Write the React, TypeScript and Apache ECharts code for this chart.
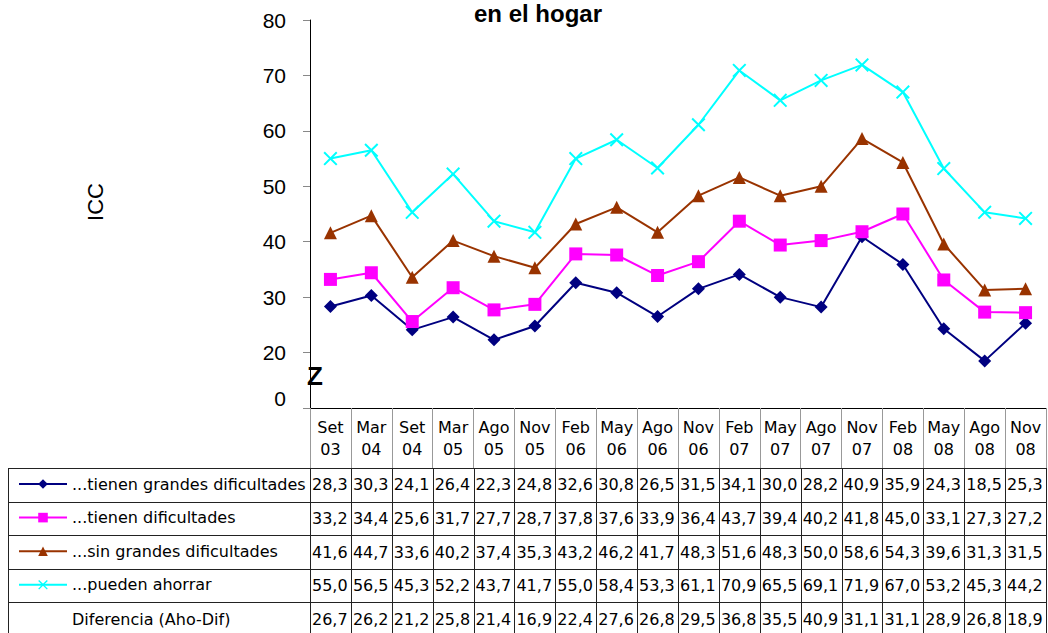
import React, { useEffect, useRef } from "react";
import * as echarts from "echarts";

const categories = ["Set 03", "Mar 04", "Set 04", "Mar 05", "Ago 05", "Nov 05", "Feb 06", "May 06", "Ago 06", "Nov 06", "Feb 07", "May 07", "Ago 07", "Nov 07", "Feb 08", "May 08", "Ago 08", "Nov 08"];
const grandesDificultades = [28.3, 30.3, 24.1, 26.4, 22.3, 24.8, 32.6, 30.8, 26.5, 31.5, 34.1, 30.0, 28.2, 40.9, 35.9, 24.3, 18.5, 25.3];
const dificultades = [33.2, 34.4, 25.6, 31.7, 27.7, 28.7, 37.8, 37.6, 33.9, 36.4, 43.7, 39.4, 40.2, 41.8, 45.0, 33.1, 27.3, 27.2];
const sinGrandes = [41.6, 44.7, 33.6, 40.2, 37.4, 35.3, 43.2, 46.2, 41.7, 48.3, 51.6, 48.3, 50.0, 58.6, 54.3, 39.6, 31.3, 31.5];
const puedenAhorrar = [55.0, 56.5, 45.3, 52.2, 43.7, 41.7, 55.0, 58.4, 53.3, 61.1, 70.9, 65.5, 69.1, 71.9, 67.0, 53.2, 45.3, 44.2];
const diferencia = [26.7, 26.2, 21.2, 25.8, 21.4, 16.9, 22.4, 27.6, 26.8, 29.5, 36.8, 35.5, 40.9, 31.1, 31.1, 28.9, 26.8, 18.9];
const seriesNames = ["...tienen grandes dificultades", "...tienen dificultades", "...sin grandes dificultades", "...pueden ahorrar"];
const diffLabel = "Diferencia (Aho-Dif)";
const titleText = "en el hogar";
const yName = "ICC";

const W = 1048;
const H = 633;
const GL = 310;
const GR = 2;
const GT = 20;
const GB = 408;
const TAB = "DejaVu Sans";
const ARIAL = "Liberation Sans, Arial";

export default function App() {
  const ref = useRef<HTMLDivElement>(null);
  useEffect(() => {
    if (!ref.current) return;
    const chart = echarts.init(ref.current, undefined, { renderer: "svg" });
    const colW = (W - GL - GR) / categories.length;
    const rowTop = 468;
    const rowH = 33.6;
    const tableRows = [grandesDificultades, dificultades, sinGrandes, puedenAhorrar, diferencia];
    const graphics: any[] = [];
    graphics.push({ type: "text", x: 538, y: 13, style: { text: titleText, font: `bold 24px ${ARIAL}`, fill: "#000", align: "center", verticalAlign: "middle" } });
    graphics.push({ type: "text", x: 95, y: 202, rotation: Math.PI / 2, style: { text: yName, font: `22px ${ARIAL}`, fill: "#000", align: "center", verticalAlign: "middle" } });
    graphics.push({ type: "text", x: 315, y: 376, style: { text: "Z", font: `bold 26px ${ARIAL}`, fill: "#000", align: "center", verticalAlign: "middle" } });
    for (let r = 0; r <= tableRows.length; r++) {
      const y = Math.round(rowTop + r * rowH) + 0.5;
      graphics.push({ type: "line", shape: { x1: 8, y1: y, x2: W - GR, y2: y }, style: { stroke: "#222", lineWidth: 1 } });
    }
    graphics.push({ type: "line", shape: { x1: 8.5, y1: rowTop, x2: 8.5, y2: H }, style: { stroke: "#222", lineWidth: 1 } });
    for (let k = 0; k <= categories.length; k++) {
      const x = Math.round(GL + k * colW) + 0.5;
      graphics.push({ type: "line", shape: { x1: x, y1: rowTop, x2: x, y2: H }, style: { stroke: "#222", lineWidth: 1 } });
    }
    tableRows.forEach((row, r) => {
      row.forEach((v, i) => {
        graphics.push({
          type: "text",
          x: GL + i * colW + 2,
          y: rowTop + r * rowH + rowH / 2,
          style: { text: v.toFixed(1).replace(".", ","), font: `16px ${TAB}`, fill: "#000", align: "left", verticalAlign: "middle" },
        });
      });
    });
    graphics.push({ type: "text", x: 72, y: rowTop + 4 * rowH + rowH / 2, style: { text: diffLabel, font: `16px ${TAB}`, fill: "#000", align: "left", verticalAlign: "middle" } });

    const mk = (name: string, data: number[], color: string, symbol: string, size: number) => ({
      name,
      type: "line",
      data,
      symbol,
      symbolSize: size,
      lineStyle: { color, width: 2 },
      itemStyle: { color },
      emphasis: { disabled: true },
    });

    chart.setOption({
      animation: false,
      grid: { left: GL, right: GR, top: GT, bottom: H - GB, containLabel: false },
      legend: {
        orient: "vertical",
        left: 13,
        top: rowTop + 3,
        itemWidth: 48,
        itemHeight: 12,
        itemGap: rowH - 16,
        textStyle: { fontFamily: TAB, fontSize: 16, color: "#000", lineHeight: 16 },
        data: seriesNames,
        selectedMode: false,
      },
      xAxis: {
        type: "category",
        data: categories,
        boundaryGap: true,
        axisLine: { lineStyle: { color: "#000", width: 1 } },
        axisTick: { show: true, length: 60, interval: 0, lineStyle: { color: "#999" } },
        axisLabel: {
          interval: 0,
          margin: 8,
          fontFamily: TAB,
          fontSize: 16,
          lineHeight: 22,
          color: "#000",
          formatter: (v: string) => v.replace(" ", "\n"),
        },
        splitLine: { show: false },
      },
      yAxis: {
        type: "value",
        min: 10,
        max: 80,
        interval: 10,
        axisLine: { show: true, lineStyle: { color: "#000", width: 1 } },
        axisTick: { show: true, length: 7, lineStyle: { color: "#888" } },
        splitLine: { show: false },
        axisLabel: {
          margin: 24,
          fontFamily: ARIAL,
          fontSize: 21,
          color: "#000",
          formatter: (v: number) => (v === 10 ? "{z|0}" : String(v)),
          rich: { z: { fontFamily: ARIAL, fontSize: 21, color: "#000", padding: [0, 0, 20, 0] } },
        },
      },
      series: [
        mk(seriesNames[0], grandesDificultades, "#000080", "diamond", 13),
        mk(seriesNames[1], dificultades, "#FF00FF", "rect", 13),
        mk(seriesNames[2], sinGrandes, "#993300", "triangle", 13),
        mk(seriesNames[3], puedenAhorrar, "#00FFFF", "path://M0,1L1,0L5,4L9,0L10,1L6,5L10,9L9,10L5,6L1,10L0,9L4,5Z", 14),
      ],
      graphic: graphics,
    });
    return () => chart.dispose();
  }, []);
  return <div ref={ref} style={{ position: "fixed", left: 0, top: 0, width: W, height: H, background: "#fff" }} />;
}
